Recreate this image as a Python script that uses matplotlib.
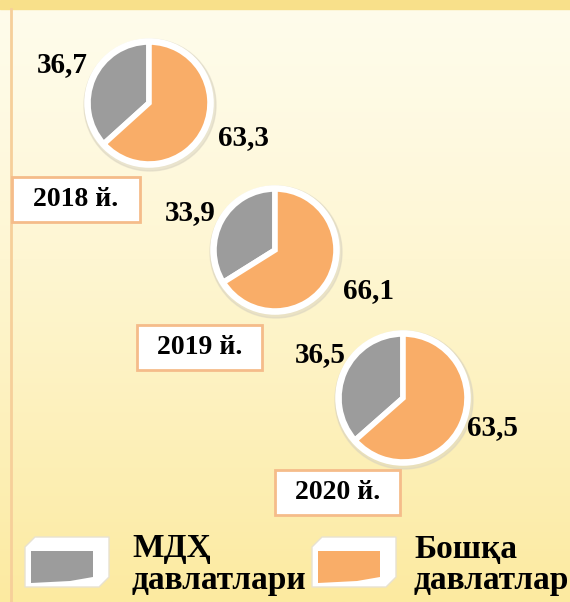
import numpy as np
import matplotlib.pyplot as plt
from matplotlib.patches import Rectangle, Polygon

plt.rcParams['font.family'] = ['Liberation Serif', 'DejaVu Serif']

years = ['2018 й.', '2019 й.', '2020 й.']
cis_share = [36.7, 33.9, 36.5]
other_share = [63.3, 66.1, 63.5]
legend_lines = [['МДҲ', 'давлатлари'], ['Бошқа', 'давлатлар']]

gray = '#9c9c9c'
orange = '#f9ad68'

W, H = 570, 602
fig = plt.figure(figsize=(W / 100, H / 100), dpi=100)
ax = fig.add_axes([0, 0, 1, 1])

# background gradient, cream at top to yellow at bottom
grad = np.linspace(0, 1, 256).reshape(-1, 1)
top = np.array([255, 252, 235]) / 255
bot = np.array([252, 234, 160]) / 255
img = top + (bot - top) * grad[..., None] ** 1.3
ax.imshow(img, extent=[0, W, 0, H], origin='upper', aspect='auto', zorder=0)
ax.add_patch(Rectangle((0, H - 9), W, 9, color='#f8e08a', zorder=1))
ax.plot([11, 11], [0, H - 9], color='#f6cf9a', lw=2, zorder=1)

def py(y):
    return H - y

centers = [(149, 103), (275, 250), (403, 398)]
radii = [61, 61, 64]
lab_cis = [(62, 65), (190, 213), (320, 355)]
lab_oth = [(243, 138), (368, 291), (492, 428)]
boxes = [(12, 177, 128, 45), (137, 325, 125, 45), (275, 470, 125, 45)]

for i in range(3):
    cx, cy = centers[i]
    r = radii[i]
    # soft shadow
    ax.add_patch(plt.Circle((cx + 1, py(cy) - 2), r + 5, color='#d8d2c0', alpha=0.5, zorder=1.5))
    ax.pie([cis_share[i], other_share[i]], colors=[gray, orange], startangle=90,
           center=(cx, py(cy)), radius=r, frame=True,
           wedgeprops=dict(edgecolor='white', linewidth=4, zorder=2))
    ax.add_patch(plt.Circle((cx, py(cy)), r + 1, fill=False, ec='white', lw=4, zorder=3))
    ax.text(lab_cis[i][0], py(lab_cis[i][1]), f'{cis_share[i]:.1f}'.replace('.', ','),
            fontsize=21, fontweight='bold', ha='center', va='center', zorder=5)
    ax.text(lab_oth[i][0], py(lab_oth[i][1]), f'{other_share[i]:.1f}'.replace('.', ','),
            fontsize=21, fontweight='bold', ha='center', va='center', zorder=5)
    bx, by, bw, bh = boxes[i]
    ax.add_patch(Rectangle((bx, py(by + bh)), bw, bh, fc='white', ec='#f5bc8a', lw=2, zorder=4))
    ax.text(bx + bw / 2, py(by + bh / 2), years[i], fontsize=20, fontweight='bold',
            ha='center', va='center', zorder=5)

ax.set_xlim(0, W)
ax.set_ylim(0, H)
ax.set_aspect('auto')
ax.axis('off')

def legend_box(x, y, color):
    # white 3d-ish box with a coloured face
    outer = [(x, py(y + 10)), (x + 10, py(y)), (x + 84, py(y)), (x + 84, py(y + 40)),
             (x + 74, py(y + 50)), (x, py(y + 50))]
    ax.add_patch(Polygon(outer, closed=True, fc='white', ec='#e8e2d0', lw=1, zorder=4))
    face = [(x + 6, py(y + 14)), (x + 68, py(y + 14)), (x + 68, py(y + 40)),
            (x + 45, py(y + 44)), (x + 6, py(y + 46))]
    ax.add_patch(Polygon(face, closed=True, fc=color, ec='none', zorder=5))

legend_box(25, 537, gray)
legend_box(312, 537, orange)
for (tx, lines) in zip([132, 414], legend_lines):
    ax.text(tx, py(549), lines[0], fontsize=24, fontweight='bold', ha='left',
            va='center', zorder=5)
    ax.text(tx, py(580), lines[1], fontsize=24, fontweight='bold', ha='left',
            va='center', zorder=5)

fig.savefig('out.png', dpi=100)
